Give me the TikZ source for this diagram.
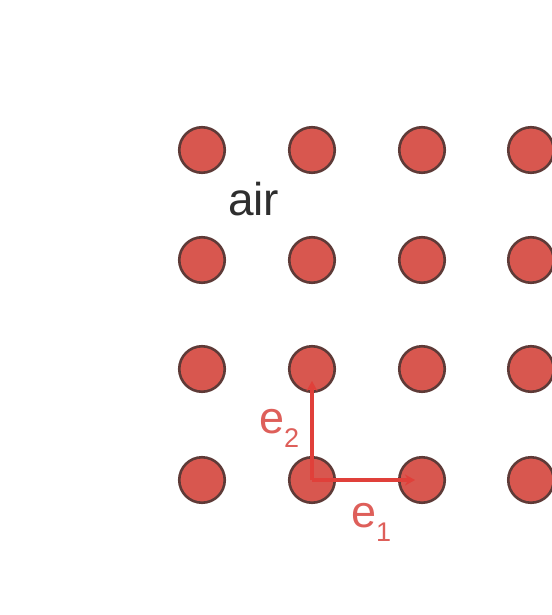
\documentclass[tikz,border=0pt]{standalone}
\usepackage{fontspec}
\setmainfont{Liberation Sans}
\usetikzlibrary{arrows.meta}
\definecolor{dotfill}{HTML}{D8574F}
\definecolor{dotedge}{HTML}{5E3A37}
\definecolor{vecred}{HTML}{E0403A}
\definecolor{labred}{HTML}{DE5F5A}
\definecolor{airgray}{HTML}{2E2E2E}
\newcommand{\subl}[1]{\raisebox{-14pt}{\fontsize{27}{27}\selectfont #1}}
\begin{document}
\begin{tikzpicture}[x=1pt,y=-1pt,
  dot/.style={circle,fill=dotfill,draw=dotedge,line width=2.6pt,minimum size=45.5pt,inner sep=0pt},
  vec/.style={draw=vecred,line width=3.6pt,-{Stealth[length=10pt,width=11pt]}},
  lab/.style={text=labred,font=\fontsize{45}{45}\selectfont,inner sep=0pt,anchor=base west}]
\useasboundingbox (0,0) rectangle (551,615);
\foreach \i/\x in {1/202,2/312,3/422,4/531}{
  \foreach \j/\y in {1/150,2/260,3/369,4/480}{
    \node[dot] (d\i\j) at (\x,\y) {};
  }
}
\node[text=airgray,font=\fontsize{46}{46}\selectfont,inner sep=0pt,anchor=base west] (air) at (228,215) {air};
\draw[vec] (d24.center) -- ([yshift=-12pt]d23.center);
\draw[vec] (d24.center) -- ([xshift=-7pt]d34.center);
\node[lab] (e2) at (259,433) {e\subl{2}};
\node[lab] (e1) at (351,527) {e\subl{1}};
\end{tikzpicture}
\end{document}
